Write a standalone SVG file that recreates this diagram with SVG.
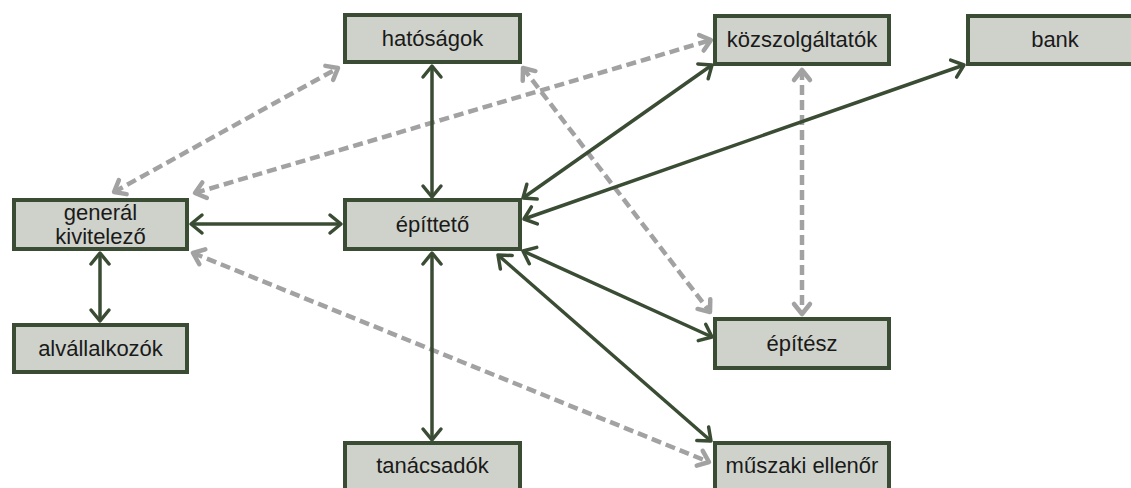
<svg xmlns="http://www.w3.org/2000/svg" width="1131" height="488" viewBox="0 0 1131 488">
<style>
.box{fill:#cfd2ca;stroke:#3a4c33;stroke-width:4}
.lbl{font-family:"Liberation Sans",Arial,sans-serif;font-size:22px;fill:#1a1a1a;text-anchor:middle}
.solid{stroke:#3a4c33;stroke-width:3.5;fill:none;marker-start:url(#ag);marker-end:url(#ag)}
.dash{stroke:#a2a2a2;stroke-width:4.5;fill:none;stroke-dasharray:10 5;marker-start:url(#ay);marker-end:url(#ay)}
</style>
<defs>
<marker id="ag" markerUnits="userSpaceOnUse" viewBox="-14 -12 16 24" markerWidth="16" markerHeight="24" refX="0" refY="0" orient="auto-start-reverse" overflow="visible">
<path d="M-11,-9 L0,0 L-11,9" fill="none" stroke="#3a4c33" stroke-width="3.5" stroke-linecap="round" stroke-linejoin="round"/>
</marker>
<marker id="ay" markerUnits="userSpaceOnUse" viewBox="-14 -12 16 24" markerWidth="16" markerHeight="24" refX="0" refY="0" orient="auto-start-reverse" overflow="visible">
<path d="M-10,-8 L0,0 L-10,8" fill="none" stroke="#a2a2a2" stroke-width="4.5" stroke-linecap="round" stroke-linejoin="round"/>
</marker>
</defs>
<rect width="1131" height="488" fill="#ffffff"/>
<g id="connectors">
<line class="dash" x1="114" y1="192" x2="338" y2="68"/>
<line class="dash" x1="195" y1="193" x2="711" y2="40"/>
<line class="dash" x1="523" y1="68" x2="710" y2="312"/>
<line class="dash" x1="802" y1="70" x2="802" y2="314"/>
<line class="dash" x1="193" y1="253" x2="709" y2="462"/>
<line class="solid" x1="432" y1="66" x2="432" y2="197"/>
<line class="solid" x1="191" y1="224" x2="341" y2="224"/>
<line class="solid" x1="100" y1="253" x2="100" y2="321"/>
<line class="solid" x1="432" y1="253" x2="432" y2="440"/>
<line class="solid" x1="523" y1="198" x2="712" y2="65"/>
<line class="solid" x1="524" y1="219" x2="964" y2="65"/>
<line class="solid" x1="523" y1="251" x2="712" y2="337"/>
<line class="solid" x1="498" y1="255" x2="711" y2="441"/>
</g>
<g id="hatosagok"><rect class="box" x="345" y="15" width="175" height="47"/><text class="lbl" x="432.5" y="46">hatóságok</text></g>
<g id="kozszolgaltatok"><rect class="box" x="715" y="16" width="174" height="48"/><text class="lbl" x="802" y="47">közszolgáltatók</text></g>
<g id="bank"><rect class="box" x="968" y="16" width="180" height="48"/><text class="lbl" x="1055" y="47">bank</text></g>
<g id="general"><rect class="box" x="14" y="200" width="173" height="49"/><text class="lbl" x="100.5" y="220">generál</text><text class="lbl" x="100.5" y="244">kivitelező</text></g>
<g id="alvallalkozok"><rect class="box" x="14" y="325" width="173" height="47"/><text class="lbl" x="100.5" y="356">alvállalkozók</text></g>
<g id="epitteto"><rect class="box" x="345" y="200" width="175" height="49"/><text class="lbl" x="432.5" y="232">építtető</text></g>
<g id="epitesz"><rect class="box" x="715" y="319" width="174" height="49"/><text class="lbl" x="802" y="351">építész</text></g>
<g id="tanacsadok"><rect class="box" x="345" y="443" width="175" height="60"/><text class="lbl" x="432.5" y="473">tanácsadók</text></g>
<g id="muszaki"><rect class="box" x="715" y="443" width="174" height="60"/><text class="lbl" x="802" y="473">műszaki ellenőr</text></g>
</svg>
